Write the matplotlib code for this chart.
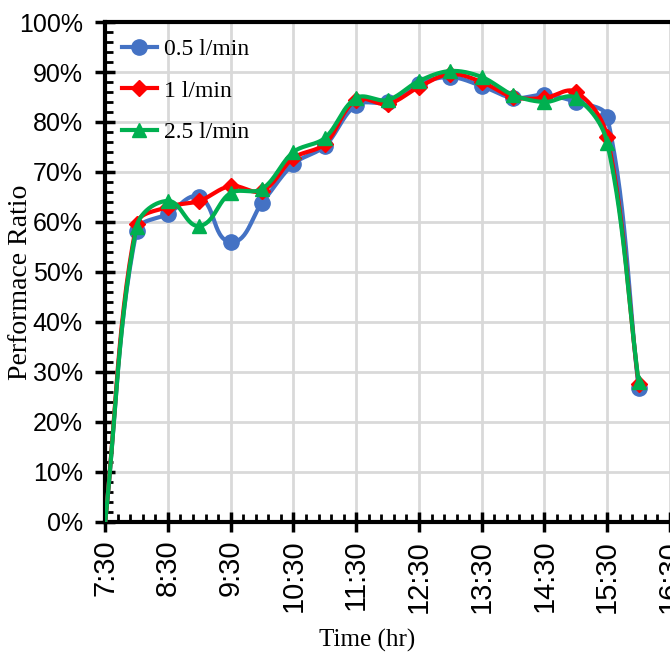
import numpy as np
import matplotlib
matplotlib.use("Agg")
import matplotlib.pyplot as plt
import matplotlib.ticker as mticker
from matplotlib.lines import Line2D

# half-hour readings, 7:30 .. 16:00
times = ["7:30", "8:00", "8:30", "9:00", "9:30", "10:00", "10:30", "11:00", "11:30",
         "12:00", "12:30", "13:00", "13:30", "14:00", "14:30", "15:00", "15:30", "16:00"]
pr_05 = [0, 58.2, 61.6, 65.0, 56.0, 63.8, 71.6, 75.2, 83.4,
         84.0, 87.6, 89.0, 87.2, 84.8, 85.4, 84.0, 81.0, 26.8]
pr_1 = [0, 59.6, 63.0, 64.2, 67.2, 66.2, 72.8, 75.6, 84.4,
        83.6, 87.0, 89.6, 88.0, 85.0, 84.8, 86.0, 77.0, 27.6]
pr_25 = [0, 59.0, 64.2, 59.2, 65.8, 66.6, 74.0, 76.8, 84.8,
         84.4, 88.2, 90.2, 89.0, 85.4, 84.0, 84.8, 75.8, 28.0]

labels = ["0.5 l/min", "1 l/min", "2.5 l/min"]
tick_times = ["7:30", "8:30", "9:30", "10:30", "11:30", "12:30", "13:30", "14:30", "15:30", "16:30"]
colors = ["#4472C4", "#FF0000", "#00B050"]
markers = ["o", "D", "^"]
msizes = [11, 8, 10]

PX_PER_HR = 62.6   # screen scale used for the smoothing only
PX_PER_PCT = 5.0


def to_hours(s):
    h, m = s.split(":")
    return int(h) + int(m) / 60


def smooth(x, y, n=30):
    """Smoothed line in screen space, tangents scaled by chord length (no big overshoot)."""
    P = np.column_stack([np.asarray(x, float) * PX_PER_HR, np.asarray(y, float) * PX_PER_PCT])
    m = len(P)
    tang = np.zeros_like(P)
    for i in range(m):
        d = P[min(i + 1, m - 1)] - P[max(i - 1, 0)]
        tang[i] = d / np.linalg.norm(d)
    t = np.linspace(0, 1, n)[:, None]
    out = []
    for i in range(m - 1):
        p0, p3 = P[i], P[i + 1]
        L = np.linalg.norm(p3 - p0) / 3
        c1 = p0 + tang[i] * L
        c2 = p3 - tang[i + 1] * L
        b = ((1 - t) ** 3) * p0 + 3 * ((1 - t) ** 2) * t * c1 + 3 * (1 - t) * t ** 2 * c2 + t ** 3 * p3
        out.append(b)
    out = np.vstack(out)
    return out[:, 0] / PX_PER_HR, out[:, 1] / PX_PER_PCT


x = np.array([to_hours(t) for t in times])
xt = [to_hours(t) for t in tick_times]

fig = plt.figure(figsize=(6.7, 6.68), dpi=100)
ax = fig.add_axes([0.157, 0.219, 0.843, 0.748])

handles = []
for i, (vals, lab, col, mk, ms) in enumerate(zip([pr_05, pr_1, pr_25], labels, colors, markers, msizes)):
    sx, sy = smooth(x, vals)
    ax.plot(sx, sy, color=col, linewidth=3, zorder=3 + i, solid_capstyle="round")
    ax.plot(x[1:], np.array(vals)[1:], linestyle="none", marker=mk, markersize=ms,
            color=col, markeredgecolor=col, zorder=3 + i)
    handles.append(Line2D([], [], color=col, linewidth=3, marker=mk, markersize=ms,
                          markeredgecolor=col, label=lab))

ax.set_xlim(7.5, 16.5)
ax.set_ylim(0, 100)
ax.xaxis.set_major_locator(mticker.FixedLocator(xt))
ax.xaxis.set_minor_locator(mticker.FixedLocator(np.arange(7.5, 16.51, 0.2)))
ax.yaxis.set_major_locator(mticker.MultipleLocator(10))
ax.yaxis.set_minor_locator(mticker.MultipleLocator(2))
ax.set_xticklabels(tick_times)
ax.yaxis.set_major_formatter(mticker.FuncFormatter(lambda v, _: f"{int(v)}%"))

ax.grid(True, which="major", color="#D9D9D9", linewidth=2)
ax.set_axisbelow(True)
for side in ["left", "bottom", "top"]:
    ax.spines[side].set_linewidth(3)
    ax.spines[side].set_color("black")
ax.spines["right"].set_visible(False)

ax.tick_params(axis="both", which="major", direction="inout", length=14, width=2.5, color="black")
ax.tick_params(axis="both", which="minor", direction="in", length=6, width=2, color="black")
ax.tick_params(axis="y", which="major", pad=9)
ax.tick_params(axis="x", which="major", pad=6)

for lbl in ax.get_yticklabels():
    lbl.set_family("Liberation Sans")
    lbl.set_fontsize(18)
for lbl in ax.get_xticklabels():
    lbl.set_family("Liberation Sans")
    lbl.set_fontsize(21)
    lbl.set_rotation(90)

ax.set_xlabel("Time (hr)", family="Liberation Serif", fontsize=18)
ax.xaxis.set_label_coords(0.464, -0.215)
ax.set_ylabel("Performace Ratio", family="Liberation Serif", fontsize=20)
ax.yaxis.set_label_coords(-0.128, 0.48)

ax.legend(handles=handles, loc="upper left", frameon=False, handlelength=1.5,
          handletextpad=0.3, labelspacing=0.85, borderaxespad=0.3,
          prop={"family": "Liberation Serif", "size": 17})

fig.savefig("out.png", dpi=100)
